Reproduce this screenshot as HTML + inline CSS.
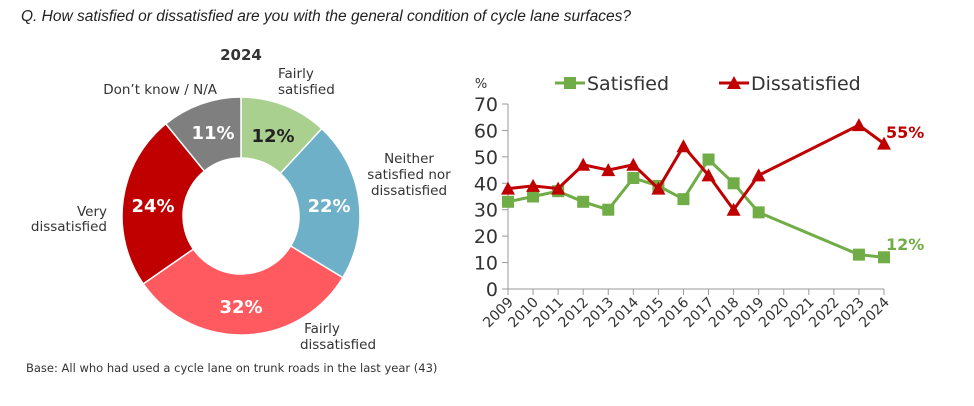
<!DOCTYPE html>
<html><head><meta charset="utf-8"><style>
html,body{margin:0;padding:0;background:#fff;}
svg text{font-family:"DejaVu Sans","Liberation Sans",sans-serif;}
</style></head><body>
<svg id="s" width="974" height="401" viewBox="0 0 974 401" xmlns="http://www.w3.org/2000/svg">
<text x="21" y="21" font-size="15.5" font-style="italic" fill="#222" style="font-family:'Liberation Sans',sans-serif">Q. How satisfied or dissatisfied are you with the general condition of cycle lane surfaces?</text>
<text x="241" y="60" text-anchor="middle" font-weight="bold" font-size="15" fill="#333">2024</text>
<g id="donut"></g>
<g font-size="13.5" fill="#333">
<text x="278" y="78">Fairly</text><text x="278" y="94">satisfied</text>
<text x="217" y="94" text-anchor="end">Don’t know / N/A</text>
<text x="409" y="163" text-anchor="middle">Neither</text>
<text x="409" y="179" text-anchor="middle">satisfied nor</text>
<text x="409" y="195" text-anchor="middle">dissatisfied</text>
<text x="107" y="216" text-anchor="end">Very</text>
<text x="107" y="231" text-anchor="end">dissatisfied</text>
<text x="322" y="333" text-anchor="middle">Fairly</text>
<text x="338" y="349" text-anchor="middle">dissatisfied</text>
</g>
<g font-size="18" font-weight="bold" text-anchor="middle">
<text x="213" y="139" fill="#fff">11%</text>
<text x="273" y="142" fill="#222">12%</text>
<text x="329" y="212" fill="#fff">22%</text>
<text x="153" y="212" fill="#fff">24%</text>
<text x="241" y="313" fill="#fff">32%</text>
</g>
<text x="26" y="372" font-size="11.5" fill="#333">Base: All who had used a cycle lane on trunk roads in the last year (43)</text>
<g id="line"></g>
</svg>
<script>
var NS="http://www.w3.org/2000/svg";
function el(p,t,a,txt){var e=document.createElementNS(NS,t);for(var k in a)e.setAttribute(k,a[k]);if(txt!=null)e.textContent=txt;p.appendChild(e);return e;}
var d=document.getElementById("donut");
var cx=241,cy=216,R=119,r=58;
var segs=[[12,"#A9D08E"],[22,"#6FB0C9"],[32,"#FF5A5F"],[24,"#C00000"],[11,"#7F7F7F"]];
var tot=101,a0=0;
segs.forEach(function(s){var a1=a0+s[0]/tot*2*Math.PI;
 function P(rr,a){return [cx+rr*Math.sin(a),cy-rr*Math.cos(a)];}
 var p1=P(R,a0),p2=P(R,a1),p3=P(r,a1),p4=P(r,a0),lg=(a1-a0)>Math.PI?1:0;
 el(d,"path",{d:"M"+p1+"A"+R+","+R+" 0 "+lg+" 1 "+p2+"L"+p3+"A"+r+","+r+" 0 "+lg+" 0 "+p4+"Z",fill:s[1],stroke:"#fff","stroke-width":1.5});
 a0=a1;});
var g=document.getElementById("line");
var x0=508,dx=(884-508)/15,y0=289,sy=(289-104)/70;
function X(i){return x0+i*dx;} function Y(v){return y0-v*sy;}
el(g,"line",{x1:x0,y1:104,x2:x0,y2:y0,stroke:"#999","stroke-width":1});
el(g,"line",{x1:x0-6,y1:y0,x2:884,y2:y0,stroke:"#999","stroke-width":1});
for(var v=0;v<=70;v+=10){el(g,"line",{x1:x0-6,y1:Y(v),x2:x0,y2:Y(v),stroke:"#999"});
 el(g,"text",{x:x0-10,y:Y(v)+7,"text-anchor":"end","font-size":19,fill:"#333"},v);}
el(g,"text",{x:481,y:88,"font-size":13,fill:"#333","text-anchor":"middle"},"%");
for(var i=0;i<16;i++){el(g,"line",{x1:X(i),y1:y0,x2:X(i),y2:y0+6,stroke:"#999"});
 el(g,"text",{x:X(i)+6,y:y0+14,"font-size":14,fill:"#333","text-anchor":"end",transform:"rotate(-45 "+(X(i)+6)+" "+(y0+14)+")"},2009+i);}
var idx=[0,1,2,3,4,5,6,7,8,9,10,14,15];
var sat=[33,35,37,33,30,42,39,34,49,40,29,13,12];
var dis=[38,39,38,47,45,47,38,54,43,30,43,62,55];
function pts(a){return idx.map(function(i,k){return X(i)+","+Y(a[k]);}).join(" ");}
el(g,"polyline",{points:pts(sat),fill:"none",stroke:"#70AD47","stroke-width":3});
idx.forEach(function(i,k){el(g,"rect",{x:X(i)-6,y:Y(sat[k])-6,width:12,height:12,fill:"#70AD47"});});
el(g,"polyline",{points:pts(dis),fill:"none",stroke:"#C00000","stroke-width":3});
idx.forEach(function(i,k){var x=X(i),y=Y(dis[k]);el(g,"polygon",{points:(x-7)+","+(y+6)+" "+(x+7)+","+(y+6)+" "+x+","+(y-7),fill:"#C00000"});});
el(g,"text",{x:886,y:138,"font-size":16,"font-weight":"bold",fill:"#C00000"},"55%");
el(g,"text",{x:886,y:250,"font-size":16,"font-weight":"bold",fill:"#70AD47"},"12%");
el(g,"line",{x1:555,y1:83,x2:585,y2:83,stroke:"#70AD47","stroke-width":3});
el(g,"rect",{x:564,y:77,width:12,height:12,fill:"#70AD47"});
el(g,"text",{x:587,y:90,"font-size":19,fill:"#333"},"Satisfied");
el(g,"line",{x1:719,y1:83,x2:749,y2:83,stroke:"#C00000","stroke-width":3});
el(g,"polygon",{points:"727,89 741,89 734,76",fill:"#C00000"});
el(g,"text",{x:751,y:90,"font-size":19,fill:"#333"},"Dissatisfied");
</script>
</body></html>
